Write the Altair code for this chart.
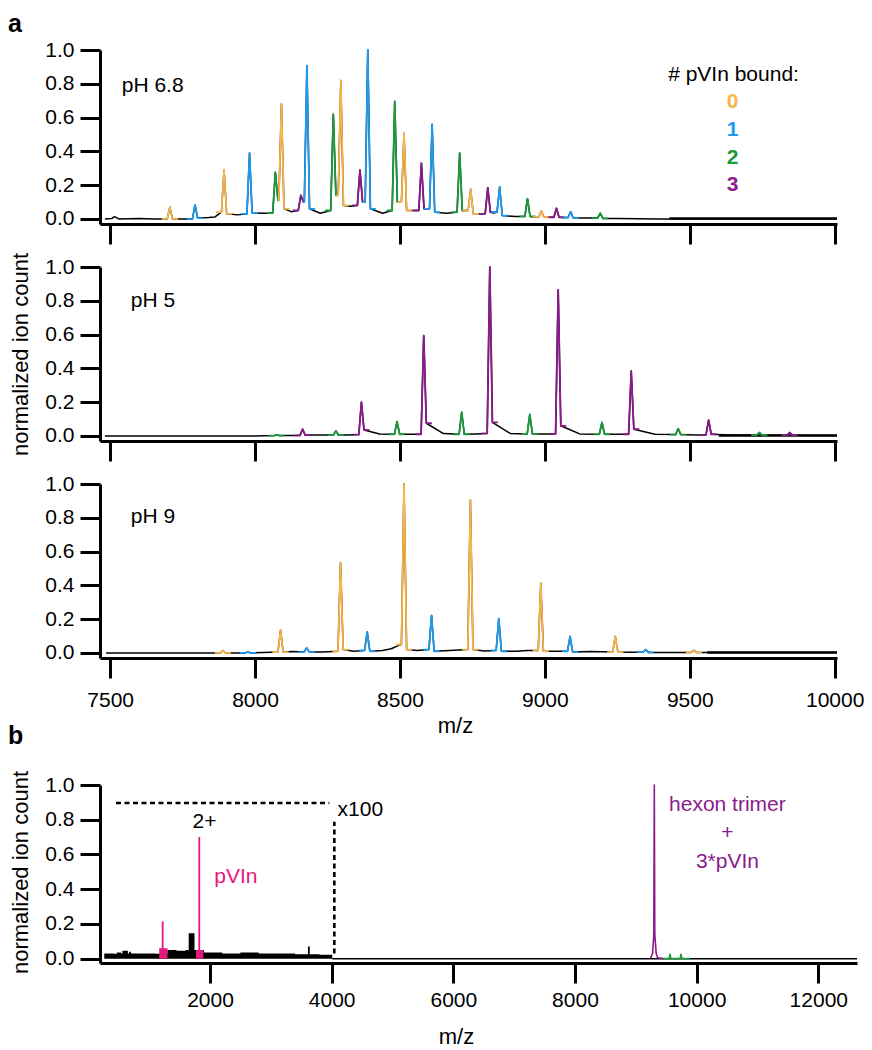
import altair as alt
import pandas as pd

FONT = "Liberation Sans"
ORANGE, BLUE, GREEN, PURPLE, PINK = "#F7B54A", "#1E9BF0", "#1D9A3C", "#8A1B8C", "#E5187E"
SPECIES = ["0", "1", "2", "3"]
SP_COLORS = [ORANGE, BLUE, GREEN, PURPLE]

# ---------------- panel a, pH 6.8 ----------------
p68_mz = [7706, 7793, 7893, 7981, 8070, 8091, 8158, 8179, 8270, 8296, 8362, 8389, 8482,
          8514, 8574, 8611, 8706, 8744, 8803, 8844, 8940, 8988, 9040, 9089, 9191]
p68_h = [0.07, 0.083, 0.29, 0.39, 0.276, 0.68, 0.14, 0.907, 0.62, 0.82, 0.29, 1.0, 0.695,
         0.507, 0.33, 0.56, 0.39, 0.175, 0.185, 0.19, 0.12, 0.047, 0.063, 0.043, 0.034]
p68_sp = [0, 1, 0, 1, 2, 0, 3, 1, 2, 0, 3, 1, 2, 0, 3, 1, 2, 0, 3, 1, 2, 0, 3, 1, 2]
p68_fl = [0.0, 0.0, 0.04, 0.03, 0.035, 0.11, 0.05, 0.1, 0.05, 0.14, 0.08, 0.1, 0.05,
          0.1, 0.05, 0.06, 0.04, 0.05, 0.03, 0.04, 0.015, 0.012, 0.01, 0.008, 0.005]
p68_fr = [0.0, 0.005, 0.03, 0.035, 0.11, 0.06, 0.1, 0.06, 0.14, 0.08, 0.1, 0.06, 0.1,
          0.05, 0.06, 0.04, 0.05, 0.03, 0.04, 0.02, 0.015, 0.01, 0.01, 0.005, 0.003]
p68_vmz = [7482, 7505, 7515, 7530, 7600, 7650, 7750, 7840, 7862, 7940, 8030, 8125, 8225,
           8330, 8440, 8545, 8660, 8775, 8823, 8900, 8965, 9015, 9065, 9140, 9250, 9400, 10008]
p68_vy = [0.0, 0.002, 0.014, 0.0, 0.003, 0.0, 0.0, 0.008, 0.012, 0.024, 0.034, 0.043, 0.034,
          0.075, 0.034, 0.05, 0.034, 0.03, 0.035, 0.014, 0.012, 0.01, 0.008, 0.005, 0.003, 0.0, 0.0]
p68_nmz = [9430, 10008]
p68_ny = [0.003, 0.003]

# ---------------- panel a, pH 5 ----------------
p5_mz = [8075, 8164, 8279, 8367, 8490, 8582, 8713, 8810, 8948, 9046, 9197, 9298, 9460, 9565, 9740, 9845]
p5_h = [0.006, 0.04, 0.03, 0.2, 0.085, 0.594, 0.14, 1.0, 0.127, 0.865, 0.08, 0.384, 0.043, 0.094, 0.02, 0.02]
p5_sp = [2, 3, 2, 3, 2, 3, 2, 3, 2, 3, 2, 3, 2, 3, 2, 3]
p5_fl = [0.002, 0.003, 0.005, 0.008, 0.01, 0.01, 0.01, 0.015, 0.012, 0.012, 0.01, 0.01, 0.008, 0.006, 0.005, 0.005]
p5_fr = [0.002, 0.005, 0.005, 0.035, 0.01, 0.075, 0.01, 0.08, 0.012, 0.06, 0.01, 0.04, 0.008, 0.01, 0.005, 0.005]
p5_vmz = [7482, 8000, 8120, 8220, 8320, 8430, 8540, 8650, 8760, 8880, 9000, 9120, 9250, 9380,
          9520, 9640, 9800, 9900, 10008]
p5_vy = [0.0, 0.0, 0.003, 0.005, 0.006, 0.012, 0.01, 0.014, 0.012, 0.015, 0.012, 0.012, 0.01, 0.01,
         0.006, 0.005, 0.004, 0.003, 0.003]
p5_nmz = [9600, 10008]
p5_ny = [0.003, 0.003]

# ---------------- panel a, pH 9 ----------------
p9_mz = [7889, 7975, 8088, 8178, 8295, 8387, 8514, 8609, 8743, 8841, 8986, 9087, 9243, 9348, 9514]
p9_h = [0.014, 0.006, 0.134, 0.03, 0.535, 0.124, 1.0, 0.222, 0.906, 0.203, 0.413, 0.098, 0.098, 0.02, 0.015]
p9_sp = [0, 1, 0, 1, 0, 1, 0, 1, 0, 1, 0, 1, 0, 1, 0]
p9_fl = [0.0, 0.0, 0.005, 0.005, 0.01, 0.015, 0.05, 0.02, 0.02, 0.015, 0.015, 0.01, 0.005, 0.005, 0.003]
p9_fr = [0.0, 0.0, 0.005, 0.005, 0.02, 0.01, 0.02, 0.01, 0.02, 0.01, 0.01, 0.005, 0.005, 0.003, 0.003]
p9_vmz = [7486, 7840, 7932, 8030, 8130, 8235, 8340, 8440, 8470, 8490, 8560, 8670, 8790, 8900,
          8940, 9040, 9160, 9300, 9420, 9600, 10008]
p9_vy = [0.0, 0.0, 0.0, 0.003, 0.008, 0.006, 0.01, 0.015, 0.025, 0.04, 0.015, 0.015, 0.012, 0.01,
         0.015, 0.01, 0.008, 0.004, 0.003, 0.003, 0.003]
p9_nmz = [9560, 10008]
p9_ny = [0.003, 0.003]

ph_labels = ["pH 6.8", "pH 5", "pH 9"]
ph_x = [7540, 7571, 7571]
ph_y = [0.787, 0.80, 0.807]

legend_title = "# pVIn bound:"
legend_title_x = 9651
legend_title_y = 0.852
legend_digit_x = [9648, 9648, 9648, 9648]
legend_digit_y = [0.694, 0.527, 0.359, 0.2]

# ---------------- panel b ----------------
b_noise_mz = [262, 420, 470, 540, 560, 650, 670, 700, 900, 1100, 1160, 1300, 1450, 1600, 1645,
              1650, 1740, 1745, 1900, 2200, 2500, 2800, 3100, 3400, 3600, 3610, 3630, 3640, 3800, 4010]
b_noise_y = [0.03, 0.028, 0.035, 0.03, 0.045, 0.03, 0.04, 0.03, 0.03, 0.028, 0.03, 0.05, 0.045,
             0.05, 0.045, 0.146, 0.146, 0.05, 0.035, 0.03, 0.035, 0.03, 0.03, 0.025, 0.025, 0.07,
             0.07, 0.025, 0.022, 0.02]
b_base_mz = [4010, 12636]
b_base_y = [0.0, 0.0]
b_pink_mz = [1222, 1824]
b_pink_y = [0.215, 0.70]
b_pinkfoot_mz = [1165, 1770]
b_pinkfoot_mz2 = [1302, 1890]
b_pinkfoot_y = [0.06, 0.05]
b_hex_mz = [9240, 9275, 9296, 9304, 9312, 9335, 9360, 9450]
b_hex_y = [0.0, 0.03, 0.14, 1.0, 0.14, 0.03, 0.005, 0.0]
b_grn_mz = [9450, 9548, 9562, 9576, 9729, 9743, 9757, 9890]
b_grn_y = [0.0, 0.0, 0.027, 0.0, 0.0, 0.027, 0.0, 0.0]
b_dash_h_mz = [455]
b_dash_h_mz2 = [3962]
b_dash_h_y = [0.896]
b_dash_v_mz = [4044]
b_dash_v_y = [0.03]
b_dash_v_y2 = [0.788]
b_black_text = ["x100", "2+"]
b_black_x = [4098, 1910]
b_black_y = [0.857, 0.788]
b_pink_text = ["pVIn"]
b_pink_x = [2071]
b_pink_ty = [0.47]
b_hex_text = ["hexon trimer", "+", "3*pVIn"]
b_hex_tx = [10506, 10506, 10506]
b_hex_ty = [0.885, 0.725, 0.558]

YT = [0.0, 0.2, 0.4, 0.6, 0.8, 1.0]
XT_A = [7500, 8000, 8500, 9000, 9500, 10000]
XT_B = [2000, 4000, 6000, 8000, 10000, 12000]

W1 = 9      # half base width of a drawn peak (m/z)
FOOT = 28   # half width of coloured foot (m/z)
FS = 21


def trace_df(mz, h, fl, fr, vmz, vy):
    rows = list(zip(vmz, vy))
    for c, hh, a, b in zip(mz, h, fl, fr):
        rows += [(c - W1, a), (c, hh), (c + W1, b)]
    rows.sort()
    return pd.DataFrame(rows, columns=["mz", "y"])


def peaks_df(mz, h, sp, fl, fr):
    rows = []
    n = len(mz)
    for i, (c, hh, s, a, b) in enumerate(zip(mz, h, sp, fl, fr)):
        left = c - FOOT if i == 0 else max(c - FOOT, mz[i - 1] + W1)
        right = c + FOOT if i == n - 1 else min(c + FOOT, mz[i + 1] - W1)
        pts = [(left, a), (c - W1, a), (c, hh), (c + W1, b), (right, b)]
        for k, (x, y) in enumerate(pts):
            rows.append(dict(mz=x, y=y, pid=i, sp=SPECIES[s], k=k))
    return pd.DataFrame(rows)


def yaxis(title):
    kw = dict(values=YT, format=".1f", labelPadding=6, tickCount=6)
    if title:
        kw.update(title=title, titleX=-80, titleY=87, titleBaseline="middle", titleAngle=-90)
    else:
        kw.update(title="")
    return alt.Axis(**kw)


def xaxis(values, bottom, title_x, label_pad=8, title_pad=8):
    kw = dict(values=values, format="d", labelFlush=False, labelOverlap=False)
    if bottom:
        kw.update(labels=True, title="m/z", labelPadding=label_pad, titlePadding=title_pad,
                  titleX=title_x)
    else:
        kw.update(labels=False, title="")
    return alt.Axis(**kw)


color_sp = alt.Color("sp:N", scale=alt.Scale(domain=SPECIES, range=SP_COLORS), legend=None)


def panel_a(mz, h, sp, fl, fr, vmz, vy, nmz, ny, i, bottom, ytitle, extra=None):
    X = alt.X("mz:Q", scale=alt.Scale(domain=[7465, 10008], nice=False, zero=False),
              axis=xaxis(XT_A, bottom, 355, 11, 5))
    Y = alt.Y("y:Q", scale=alt.Scale(domain=[-0.03, 1.0], nice=False, zero=False),
              axis=yaxis(ytitle))
    tr = alt.Chart(trace_df(mz, h, fl, fr, vmz, vy)).mark_line(
        color="black", strokeWidth=1.5, strokeJoin="round").encode(x=X, y=Y)
    noise = alt.Chart(pd.DataFrame({"mz": nmz, "y": ny})).mark_line(
        color="black", strokeWidth=2.6).encode(x=X, y=Y)
    pk = alt.Chart(peaks_df(mz, h, sp, fl, fr)).mark_line(
        strokeWidth=1.8, strokeJoin="round").encode(
        x=X, y=Y, color=color_sp, detail="pid:N", order="k:Q")
    lab = alt.Chart(pd.DataFrame({"mz": [ph_x[i]], "y": [ph_y[i]], "t": [ph_labels[i]]})).mark_text(
        align="left", baseline="middle", font=FONT, fontSize=FS, color="black").encode(
        x=X, y=Y, text="t:N")
    layers = [tr, noise, pk, lab]
    if extra:
        layers += extra(X, Y)
    return alt.layer(*layers).properties(width=737, height=174)


def legend_layers(X, Y):
    t = alt.Chart(pd.DataFrame({"mz": [legend_title_x], "y": [legend_title_y], "t": [legend_title]})).mark_text(
        align="center", baseline="middle", font=FONT, fontSize=FS, color="black").encode(
        x=X, y=Y, text="t:N")
    d = alt.Chart(pd.DataFrame({"mz": legend_digit_x, "y": legend_digit_y, "sp": SPECIES})).mark_text(
        align="center", baseline="middle", font=FONT, fontSize=FS, fontWeight="bold").encode(
        x=X, y=Y, text="sp:N", color=color_sp)
    a = alt.Chart(pd.DataFrame({"t": ["a"]})).mark_text(
        align="left", baseline="top", font=FONT, fontSize=25, fontWeight="bold", color="black").encode(
        x=alt.value(-92), y=alt.value(-38), text="t:N")
    return [t, d, a]


p1 = panel_a(p68_mz, p68_h, p68_sp, p68_fl, p68_fr, p68_vmz, p68_vy, p68_nmz, p68_ny, 0, False, None,
             legend_layers)
p2 = panel_a(p5_mz, p5_h, p5_sp, p5_fl, p5_fr, p5_vmz, p5_vy, p5_nmz, p5_ny, 1, False,
             "normalized ion count")
p3 = panel_a(p9_mz, p9_h, p9_sp, p9_fl, p9_fr, p9_vmz, p9_vy, p9_nmz, p9_ny, 2, True, None)

spacer = alt.Chart(pd.DataFrame({"mz": [0], "y": [0]})).mark_point(opacity=0).encode(
    x=alt.X("mz:Q", axis=None), y=alt.Y("y:Q", axis=None)).properties(width=737, height=41)

# ---------------- panel b chart ----------------
XB = alt.X("mz:Q", scale=alt.Scale(domain=[192, 12636], nice=False, zero=False),
           axis=xaxis(XT_B, True, 356, 6, 16))
YB = alt.Y("y:Q", scale=alt.Scale(domain=[-0.025, 1.0], nice=False, zero=False),
           axis=yaxis("normalized ion count"))

b_noise = alt.Chart(pd.DataFrame({"mz": b_noise_mz, "y": b_noise_y})).mark_area(
    color="black", interpolate="step-after").encode(x=XB, y=YB, y2=alt.datum(0))
b_base = alt.Chart(pd.DataFrame({"mz": b_base_mz, "y": b_base_y})).mark_line(
    color="black", strokeWidth=1.5).encode(x=XB, y=YB)
b_pfoot = alt.Chart(pd.DataFrame({"mz": b_pinkfoot_mz, "mz2": b_pinkfoot_mz2, "y": b_pinkfoot_y})).mark_rect(
    color=PINK).encode(x=XB, x2="mz2:Q", y=YB, y2=alt.datum(0))
b_prule = alt.Chart(pd.DataFrame({"mz": b_pink_mz, "y": b_pink_y})).mark_rule(
    color=PINK, strokeWidth=1.8).encode(x=XB, y=YB, y2=alt.datum(0))
b_hex = alt.Chart(pd.DataFrame({"mz": b_hex_mz, "y": b_hex_y})).mark_line(
    color=PURPLE, strokeWidth=1.6, strokeJoin="round").encode(x=XB, y=YB)
b_grn = alt.Chart(pd.DataFrame({"mz": b_grn_mz, "y": b_grn_y})).mark_line(
    color=GREEN, strokeWidth=1.6).encode(x=XB, y=YB)
b_dh = alt.Chart(pd.DataFrame({"mz": b_dash_h_mz, "mz2": b_dash_h_mz2, "y": b_dash_h_y})).mark_rule(
    color="black", strokeWidth=2.6, strokeDash=[5, 3.5]).encode(x=XB, x2="mz2:Q", y=YB)
b_dv = alt.Chart(pd.DataFrame({"mz": b_dash_v_mz, "y": b_dash_v_y, "y2": b_dash_v_y2})).mark_rule(
    color="black", strokeWidth=2.6, strokeDash=[5, 3.5]).encode(x=XB, y=YB, y2="y2:Q")
b_t1 = alt.Chart(pd.DataFrame({"mz": b_black_x[:1], "y": b_black_y[:1], "t": b_black_text[:1]})).mark_text(
    align="left", baseline="middle", font=FONT, fontSize=FS, color="black").encode(x=XB, y=YB, text="t:N")
b_t2 = alt.Chart(pd.DataFrame({"mz": b_black_x[1:], "y": b_black_y[1:], "t": b_black_text[1:]})).mark_text(
    align="center", baseline="middle", font=FONT, fontSize=FS, color="black").encode(x=XB, y=YB, text="t:N")
b_t3 = alt.Chart(pd.DataFrame({"mz": b_pink_x, "y": b_pink_ty, "t": b_pink_text})).mark_text(
    align="left", baseline="middle", font=FONT, fontSize=FS, color=PINK).encode(x=XB, y=YB, text="t:N")
b_t4 = alt.Chart(pd.DataFrame({"mz": b_hex_tx, "y": b_hex_ty, "t": b_hex_text})).mark_text(
    align="center", baseline="middle", font=FONT, fontSize=FS, color=PURPLE).encode(x=XB, y=YB, text="t:N")
b_lab = alt.Chart(pd.DataFrame({"t": ["b"]})).mark_text(
    align="left", baseline="top", font=FONT, fontSize=25, fontWeight="bold", color="black").encode(
    x=alt.value(-92), y=alt.value(-61), text="t:N")

pb = alt.layer(b_noise, b_base, b_pfoot, b_prule, b_hex, b_grn, b_dh, b_dv,
               b_t1, b_t2, b_t3, b_t4, b_lab).properties(width=757, height=178)

chart = alt.vconcat(p1, p2, p3, spacer, pb, spacing=43, bounds="flush",
                    padding={"top": 4, "left": 0, "right": 0, "bottom": 0}).resolve_scale(
    x="independent", y="independent"
).configure_view(stroke=None).configure_axis(
    domainColor="black", domainWidth=3, tickColor="black", tickWidth=3, tickSize=20,
    labelFont=FONT, labelFontSize=FS, labelColor="black", grid=False,
    titleFont=FONT, titleFontSize=22, titleFontWeight="normal", titleColor="black"
)

chart.save("out.html", embed_options={"renderer": "svg", "actions": False})
